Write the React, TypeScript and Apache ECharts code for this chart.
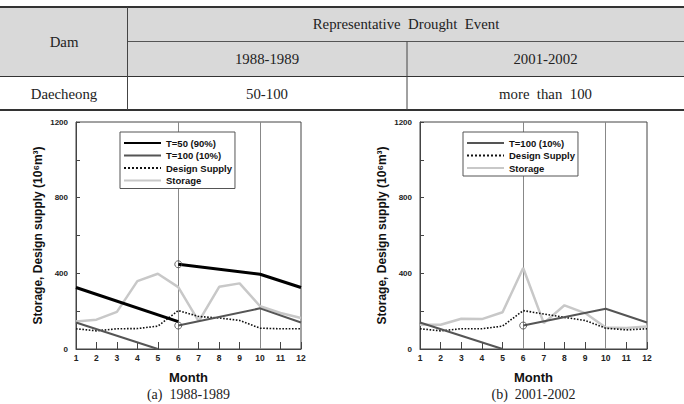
import React, { useEffect, useRef } from "react";
import * as echarts from "echarts";

// Months on the horizontal axis
const months = [1, 2, 3, 4, 5, 6, 7, 8, 9, 10, 11, 12];

// (a) 1988-1989 event
const t50EarlyA = [[1, 325], [6, 145]];
const t50LateA = [[6, 448], [10, 395], [12, 325]];
const t100EarlyA = [[1, 140], [5, 0]];
const t100LateA = [[6, 124], [10, 215], [12, 140]];
const supplyA = [107, 96, 107, 108, 121, 203, 172, 164, 151, 110, 107, 107];
const storageA = [146, 155, 196, 359, 398, 327, 146, 329, 347, 226, 190, 164];

// (b) 2001-2002 event
const t100EarlyB = [[1, 140], [5, 0]];
const t100LateB = [[6, 124], [10, 213], [12, 140]];
const supplyB = [107, 96, 107, 107, 121, 203, 185, 167, 151, 110, 101, 107];
const storageB = [128, 128, 160, 158, 194, 428, 137, 231, 190, 114, 111, 119];

// Table content
const tableHeader = ["Dam", "Representative  Drought  Event"];
const tableEvents = ["1988-1989", "2001-2002"];
const tableRow = ["Daecheong", "50-100", "more  than  100"];
const captions = ["(a)  1988-1989", "(b)  2001-2002"];

const SANS = '"Liberation Sans", Arial, sans-serif';
const SERIF = '"Liberation Serif", "DejaVu Serif", serif';

const pair = (xs: number[], ys: number[]) => xs.map((x, i) => [x, ys[i]]);

export default function App() {
  const ref = useRef<HTMLDivElement>(null);

  useEffect(() => {
    if (!ref.current) return;
    const chart = echarts.init(ref.current, undefined, { renderer: "svg" });

    const grids = [
      { left: 76, right: 383, top: 122, bottom: 55 },
      { left: 420, right: 37, top: 122, bottom: 55 },
    ];

    const xAxis = grids.map((_, i) => ({
      type: "value",
      gridIndex: i,
      min: 1,
      max: 12,
      interval: 1,
      name: "Month",
      nameLocation: "middle",
      nameGap: 22,
      nameTextStyle: { fontFamily: SANS, fontWeight: "bold", fontSize: 13, color: "#111" },
      axisLine: { show: true, lineStyle: { color: "#444", width: 1 } },
      axisTick: { show: true, inside: true, length: 7, lineStyle: { color: "#444" } },
      axisLabel: { fontFamily: SANS, fontWeight: "bold", fontSize: 8.5, color: "#222", margin: 4 },
      splitLine: { show: false },
    }));

    const yAxis = grids.map((_, i) => ({
      type: "value",
      gridIndex: i,
      min: 0,
      max: 1200,
      interval: 200,
      name: "Storage, Design supply (10⁶m³)",
      nameLocation: "middle",
      nameRotate: 90,
      nameGap: 32,
      nameTextStyle: { fontFamily: SANS, fontWeight: "bold", fontSize: 12, color: "#111" },
      axisLine: { show: true, lineStyle: { color: "#444", width: 1 } },
      axisTick: { show: true, inside: true, length: 4, lineStyle: { color: "#444" } },
      axisLabel: {
        fontFamily: SANS,
        fontWeight: "bold",
        fontSize: 8,
        color: "#222",
        margin: 8,
        formatter: (v: number) => (v % 400 === 0 ? String(v) : ""),
      },
      splitLine: { show: false },
    }));

    const styles = {
      t50: { color: "#000", width: 3, type: "solid" },
      t100: { color: "#555", width: 2, type: "solid" },
      supply: { color: "#111", width: 1.6, type: "dotted" },
      storage: { color: "#c8c8c8", width: 2.5, type: "solid" },
    };

    const line = (name: string, gi: number, data: any[], st: any, z = 2) => ({
      type: "line",
      name,
      xAxisIndex: gi,
      yAxisIndex: gi,
      data,
      symbol: "none",
      z,
      color: st.color,
      lineStyle: { color: st.color, width: st.width, type: st.type },
    });

    const guides = (gi: number) => ({
      type: "line",
      xAxisIndex: gi,
      yAxisIndex: gi,
      data: [],
      symbol: "none",
      z: 1,
      markLine: {
        silent: true,
        z: 1,
        symbol: ["none", "none"],
        label: { show: false },
        lineStyle: { color: "#888", width: 1, type: "solid" },
        data: [{ xAxis: 6 }, { xAxis: 10 }],
      },
    });

    const marks = (gi: number, data: number[][]) => ({
      type: "scatter",
      xAxisIndex: gi,
      yAxisIndex: gi,
      data,
      symbol: "circle",
      symbolSize: 7,
      z: 5,
      itemStyle: { color: "rgba(255,255,255,0)", borderColor: "#444", borderWidth: 1 },
    });

    const series: any[] = [
      guides(0),
      line("Storage", 0, pair(months, storageA), styles.storage, 2),
      line("Design Supply", 0, pair(months, supplyA), styles.supply, 3),
      line("T=100 (10%)", 0, t100EarlyA, styles.t100, 3),
      line("T=100 (10%)", 0, t100LateA, styles.t100, 3),
      line("T=50 (90%)", 0, t50EarlyA, styles.t50, 4),
      line("T=50 (90%)", 0, t50LateA, styles.t50, 4),
      marks(0, [t50LateA[0], t100LateA[0]]),
      guides(1),
      line("Storage", 1, pair(months, storageB), styles.storage, 2),
      line("Design Supply", 1, pair(months, supplyB), styles.supply, 3),
      line("T=100 (10%)", 1, t100EarlyB, styles.t100, 3),
      line("T=100 (10%)", 1, t100LateB, styles.t100, 3),
      marks(1, [t100LateB[0]]),
    ];

    const legendBase = {
      orient: "vertical",
      z: 20,
      borderColor: "#555",
      borderWidth: 1,
      backgroundColor: "#fff",
      itemWidth: 37,
      itemHeight: 10,
      itemGap: 2.5,
      selectedMode: false,
      itemStyle: { opacity: 0, borderWidth: 0 },
      textStyle: { fontFamily: SANS, fontWeight: "bold", fontSize: 9.5, color: "#111", lineHeight: 10 },
    };

    const legend = [
      {
        ...legendBase,
        left: 120,
        top: 132,
        padding: [6, 3, 3, 3],
        data: ["T=50 (90%)", "T=100 (10%)", "Design Supply", "Storage"],
      },
      {
        ...legendBase,
        left: 463,
        top: 132,
        padding: [6, 3, 3, 3],
        data: ["T=100 (10%)", "Design Supply", "Storage"],
      },
    ];

    // Summary table drawn above the two charts
    const c0 = 64, c1 = 267, c2 = 545.5, cMid = 406;
    const txt = (text: string, x: number, y: number, size = 14.8) => ({
      type: "text",
      x,
      y,
      style: {
        text,
        fill: "#222",
        fontFamily: SERIF,
        fontSize: size,
        align: "center",
        verticalAlign: "middle",
        textAlign: "center",
        textVerticalAlign: "middle",
      },
    });
    const hline = (x1: number, x2: number, y: number, w: number, color = "#333") => ({
      type: "line",
      shape: { x1, y1: y, x2, y2: y },
      style: { stroke: color, lineWidth: w },
    });
    const vline = (x: number, y1: number, y2: number) => ({
      type: "line",
      shape: { x1: x, y1, x2: x, y2 },
      style: { stroke: "#444", lineWidth: 1 },
    });

    const graphic: any[] = [
      { type: "rect", shape: { x: 0, y: 7, width: 684, height: 69.5 }, style: { fill: "#d9d9d9" } },
      hline(127.5, 684, 41.5, 1, "#555"),
      hline(0, 684, 76.5, 1.2),
      hline(0, 684, 7, 2),
      hline(0, 684, 110, 2),
      vline(127.5, 7, 110),
      vline(407, 41.5, 110),
      txt(tableHeader[0], c0, 42),
      txt(tableHeader[1], cMid, 24),
      txt(tableEvents[0], c1, 59),
      txt(tableEvents[1], c2, 59),
      txt(tableRow[0], c0, 94),
      txt(tableRow[1], c1, 94),
      txt(tableRow[2], c2, 94),
      txt(captions[0], 188.5, 394, 14),
      txt(captions[1], 533.5, 394, 14),
    ];

    chart.setOption({
      animation: false,
      backgroundColor: "#fff",
      grid: grids.map((g) => ({ ...g, show: true, borderColor: "#444", borderWidth: 1, backgroundColor: "#fff" })),
      xAxis,
      yAxis,
      legend,
      series,
      graphic,
    } as any);

    return () => chart.dispose();
  }, []);

  return (
    <div
      ref={ref}
      style={{ position: "absolute", left: 0, top: 0, width: 684, height: 404 }}
    />
  );
}
